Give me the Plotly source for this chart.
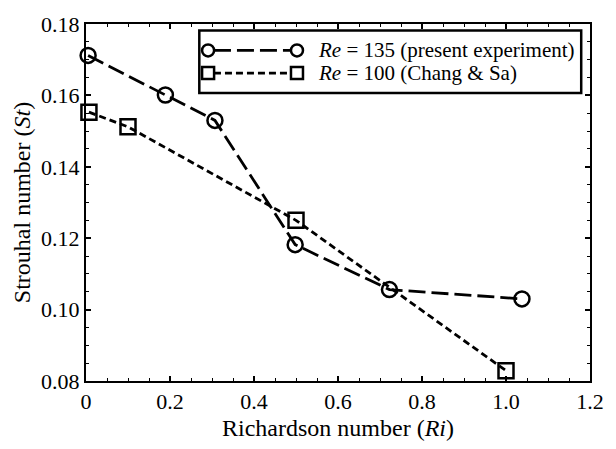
import plotly.graph_objects as go

# Strouhal number vs Richardson number
ri_re135 = [0.005, 0.189, 0.307, 0.498, 0.7225, 1.038]
st_re135 = [0.1712, 0.1601, 0.1530, 0.1182, 0.1056, 0.1030]

ri_re100 = [0.007, 0.100, 0.500, 1.000]
st_re100 = [0.1553, 0.1512, 0.1250, 0.0829]

label_re135 = "<i>Re</i> = 135 (present experiment)"
label_re100 = "<i>Re</i> = 100 (Chang &amp; Sa)"

x_tickvals = [0, 0.2, 0.4, 0.6, 0.8, 1.0, 1.2]
x_ticktext = ["0", "0.2", "0.4", "0.6", "0.8", "1.0", "1.2"]
y_tickvals = [0.08, 0.10, 0.12, 0.14, 0.16, 0.18]

W, H = 616, 449
ML, MR, MT, MB = 86, 14, 13, 58
PW, PH = W - ML - MR, H - MT - MB

FONT = "Liberation Serif, Times New Roman, serif"
DASH_135 = "17px,6px"
DASH_100 = "7px,4px"


def px(xp):
    return (xp - ML) / PW


def py(yp):
    return (H - MB - yp) / PH


fig = go.Figure()
fig.add_trace(go.Scatter(
    x=ri_re135, y=st_re135, mode="lines+markers", cliponaxis=False,
    line=dict(color="black", width=2.8, dash=DASH_135),
    marker=dict(symbol="circle-open", size=15, color="black", line=dict(width=2.5)),
    showlegend=False,
))
fig.add_trace(go.Scatter(
    x=ri_re100, y=st_re100, mode="lines+markers", cliponaxis=False,
    line=dict(color="black", width=2.8, dash=DASH_100),
    marker=dict(symbol="square-open", size=15, color="black", line=dict(width=2.5)),
    showlegend=False,
))

# Boxed legend with a marker at each end of the line sample
shapes = [dict(type="rect", xref="paper", yref="paper",
               x0=px(202), x1=px(593), y0=py(86), y1=py(20),
               line=dict(color="black", width=2.5), fillcolor="white", layer="above")]
annotations = []
rows = [(41, "circle", DASH_135, label_re135), (65, "square", DASH_100, label_re100)]
for ypix, sym, dash, text in rows:
    shapes.append(dict(type="line", xref="paper", yref="paper",
                       x0=px(217), x1=px(296), y0=py(ypix), y1=py(ypix),
                       line=dict(color="black", width=2.8, dash=dash), layer="above"))
    for xc in (211, 302):
        shapes.append(dict(type="circle" if sym == "circle" else "rect",
                           xref="paper", yref="paper",
                           xsizemode="pixel", ysizemode="pixel",
                           xanchor=px(xc), yanchor=py(ypix),
                           x0=-6, x1=6, y0=-6, y1=6,
                           line=dict(color="black", width=2.5), layer="above"))
    annotations.append(dict(xref="paper", yref="paper", x=px(321), y=py(ypix),
                            xanchor="left", yanchor="middle", showarrow=False,
                            text=text, font=dict(family=FONT, size=21, color="black")))

axis_common = dict(
    showline=True, linecolor="black", linewidth=2, mirror="ticks",
    ticks="inside", ticklen=5, tickwidth=1.5, tickcolor="black",
    showgrid=False, zeroline=False,
    tickfont=dict(family=FONT, size=22, color="black"),
)

fig.update_layout(
    width=W, height=H,
    margin=dict(l=ML, r=MR, t=MT, b=MB),
    paper_bgcolor="white", plot_bgcolor="white",
    xaxis=dict(range=[0, 1.2], tickvals=x_tickvals, ticktext=x_ticktext,
               minor=dict(dtick=0.05, ticks="inside", ticklen=3, tickcolor="black", tickwidth=1.2),
               title=dict(text="Richardson number (<i>Ri</i>)", standoff=6,
                          font=dict(family=FONT, size=24, color="black")),
               **axis_common),
    yaxis=dict(range=[0.08, 0.18], tickvals=y_tickvals, tickformat=".2f",
               minor=dict(dtick=0.005, ticks="inside", ticklen=3, tickcolor="black", tickwidth=1.2),
               title=dict(text="Strouhal number (<i>St</i>)", standoff=4,
                          font=dict(family=FONT, size=24, color="black")),
               **axis_common),
    shapes=shapes,
    annotations=annotations,
)

fig.write_html("out.html")
